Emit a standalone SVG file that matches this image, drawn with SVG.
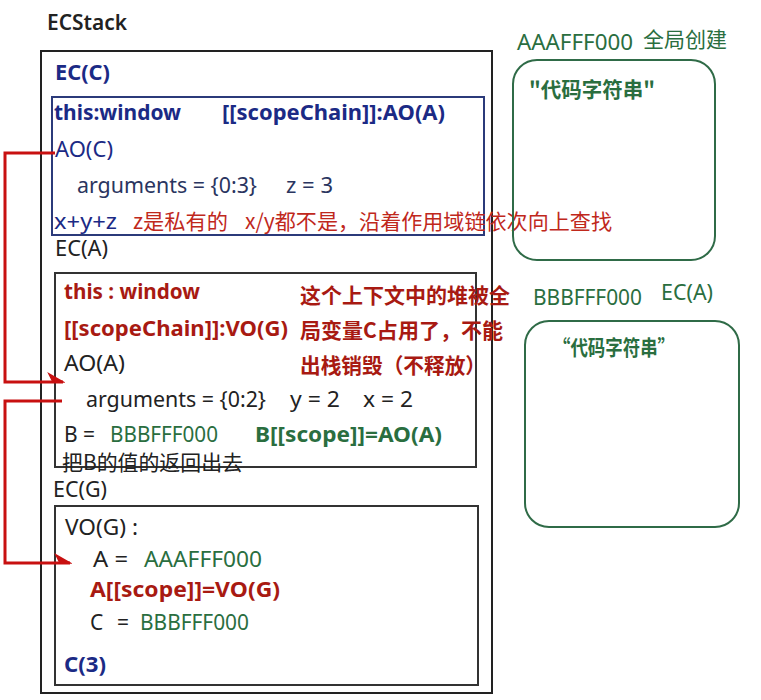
<svg xmlns="http://www.w3.org/2000/svg" width="761" height="700" viewBox="0 0 761 700">
<defs>
<style>
text{font-family:"Noto Sans","Noto Sans CJK SC",sans-serif;font-size:21px}
.cj{font-family:"Noto Sans CJK SC","Noto Sans",sans-serif}
.b{font-weight:bold}
.navy{fill:#1b2a85}
.slate{fill:#2a3560}
.blk{fill:#222}
.red{fill:#a81a12}
.lred{fill:#c0281c}
.grn{fill:#2a6e3f}
.box{fill:none;stroke-width:2}
.conn{fill:none;stroke:#c81010;stroke-width:3}
</style>
<marker id="half" viewBox="-16 -10 18 14" refX="0" refY="0" markerWidth="18" markerHeight="14" markerUnits="userSpaceOnUse" orient="auto">
<path d="M0,0 L-14,-8 L-10,0 Z" fill="#c81010" stroke="#c81010" stroke-width="1.5"/>
</marker>
</defs>
<rect width="761" height="700" fill="#fff"/>

<g id="ecstack">
<text x="47" y="30" class="blk" style="font-weight:600" textLength="80" lengthAdjust="spacingAndGlyphs">ECStack</text>
<rect x="41" y="51" width="451" height="642" class="box" stroke="#222"/>
</g>

<g id="ec-c">
<text x="55" y="80" class="navy b" textLength="55" lengthAdjust="spacingAndGlyphs">EC(C)</text>
<rect x="52" y="97" width="432" height="138" class="box" stroke="#2b3a7a"/>
<text x="54" y="120" class="navy b" textLength="127" lengthAdjust="spacingAndGlyphs">this:window</text>
<text x="222" y="120" class="navy b" textLength="223" lengthAdjust="spacingAndGlyphs">[[scopeChain]]:AO(A)</text>
<text x="55" y="157" class="navy" textLength="58" lengthAdjust="spacingAndGlyphs">AO(C)</text>
<text x="77" y="193" class="slate" textLength="180" lengthAdjust="spacingAndGlyphs">arguments = {0:3}</text>
<text x="286" y="193" class="slate" textLength="47" lengthAdjust="spacingAndGlyphs">z = 3</text>
<text x="54" y="229" class="navy" textLength="63" lengthAdjust="spacingAndGlyphs">x+y+z</text>
<text x="133" y="229" class="lred cj" textLength="95" lengthAdjust="spacingAndGlyphs">z是私有的</text>
<text x="245" y="229" class="lred cj" textLength="367" lengthAdjust="spacingAndGlyphs">x/y都不是，沿着作用域链依次向上查找</text>
</g>

<g id="ec-a">
<text x="55" y="256" class="blk" textLength="53" lengthAdjust="spacingAndGlyphs">EC(A)</text>
<rect x="55" y="273" width="421" height="194" class="box" stroke="#333"/>
<text x="64" y="299" class="red b" textLength="136" lengthAdjust="spacingAndGlyphs">this : window</text>
<text x="64" y="336" class="red b" textLength="224" lengthAdjust="spacingAndGlyphs">[[scopeChain]]:VO(G)</text>
<text x="64" y="371" class="blk" textLength="61" lengthAdjust="spacingAndGlyphs">AO(A)</text>
<text x="86" y="407" class="blk" textLength="180" lengthAdjust="spacingAndGlyphs">arguments = {0:2}</text>
<text x="290" y="407" class="blk" textLength="50" lengthAdjust="spacingAndGlyphs">y = 2</text>
<text x="363" y="407" class="blk" textLength="50" lengthAdjust="spacingAndGlyphs">x = 2</text>
<text x="64" y="442" class="blk">B =</text>
<text x="110" y="442" class="grn" textLength="108" lengthAdjust="spacingAndGlyphs">BBBFFF000</text>
<text x="255" y="442" class="grn b" textLength="187" lengthAdjust="spacingAndGlyphs">B[[scope]]=AO(A)</text>
<text x="62" y="470" class="blk cj" textLength="181" lengthAdjust="spacingAndGlyphs">把B的值的返回出去</text>
<text x="300" y="303" class="red b cj" textLength="210" lengthAdjust="spacingAndGlyphs">这个上下文中的堆被全</text>
<text x="300" y="338" class="red b cj" textLength="203" lengthAdjust="spacingAndGlyphs">局变量C占用了，不能</text>
<text x="300" y="373" class="red b cj" textLength="186" lengthAdjust="spacingAndGlyphs">出栈销毁（不释放）</text>
</g>

<g id="ec-g">
<text x="53" y="497" class="blk" textLength="54" lengthAdjust="spacingAndGlyphs">EC(G)</text>
<rect x="55" y="506" width="423" height="179" class="box" stroke="#333"/>
<text x="65" y="535" class="blk" textLength="73" lengthAdjust="spacingAndGlyphs">VO(G) :</text>
<text x="93" y="567" class="blk" textLength="35" lengthAdjust="spacingAndGlyphs">A =</text>
<text x="144" y="567" class="grn" textLength="118" lengthAdjust="spacingAndGlyphs">AAAFFF000</text>
<text x="90" y="597" class="red b" textLength="190" lengthAdjust="spacingAndGlyphs">A[[scope]]=VO(G)</text>
<text x="90" y="630" class="blk">C</text>
<text x="117" y="630" class="blk">=</text>
<text x="140" y="630" class="grn" textLength="109" lengthAdjust="spacingAndGlyphs">BBBFFF000</text>
<text x="64" y="672" class="navy b" textLength="42" lengthAdjust="spacingAndGlyphs">C(3)</text>
</g>

<g id="heap-a">
<text x="517" y="50" class="grn" textLength="116" lengthAdjust="spacingAndGlyphs">AAAFFF000</text>
<text x="643" y="47" class="grn cj" textLength="84" lengthAdjust="spacingAndGlyphs">全局创建</text>
<rect x="513" y="60" width="202" height="200" rx="24" class="box" stroke="#2f6b47"/>
<text x="529" y="97" class="grn b cj" textLength="126" lengthAdjust="spacingAndGlyphs">"代码字符串"</text>
</g>

<g id="heap-b">
<text x="533" y="305" class="grn" textLength="109" lengthAdjust="spacingAndGlyphs">BBBFFF000</text>
<text x="661" y="300" class="grn" textLength="52" lengthAdjust="spacingAndGlyphs">EC(A)</text>
<rect x="525" y="321" width="214" height="206" rx="24" class="box" stroke="#2f6b47"/>
<text x="553" y="355" class="grn b cj" textLength="122" lengthAdjust="spacingAndGlyphs">“代码字符串”</text>
</g>

<g id="connectors">
<path class="conn" d="M55,153 H5 V382 H63" marker-end="url(#half)"/>
<path class="conn" d="M62,401 H5 V563 H70" marker-end="url(#half)"/>
</g>
</svg>
